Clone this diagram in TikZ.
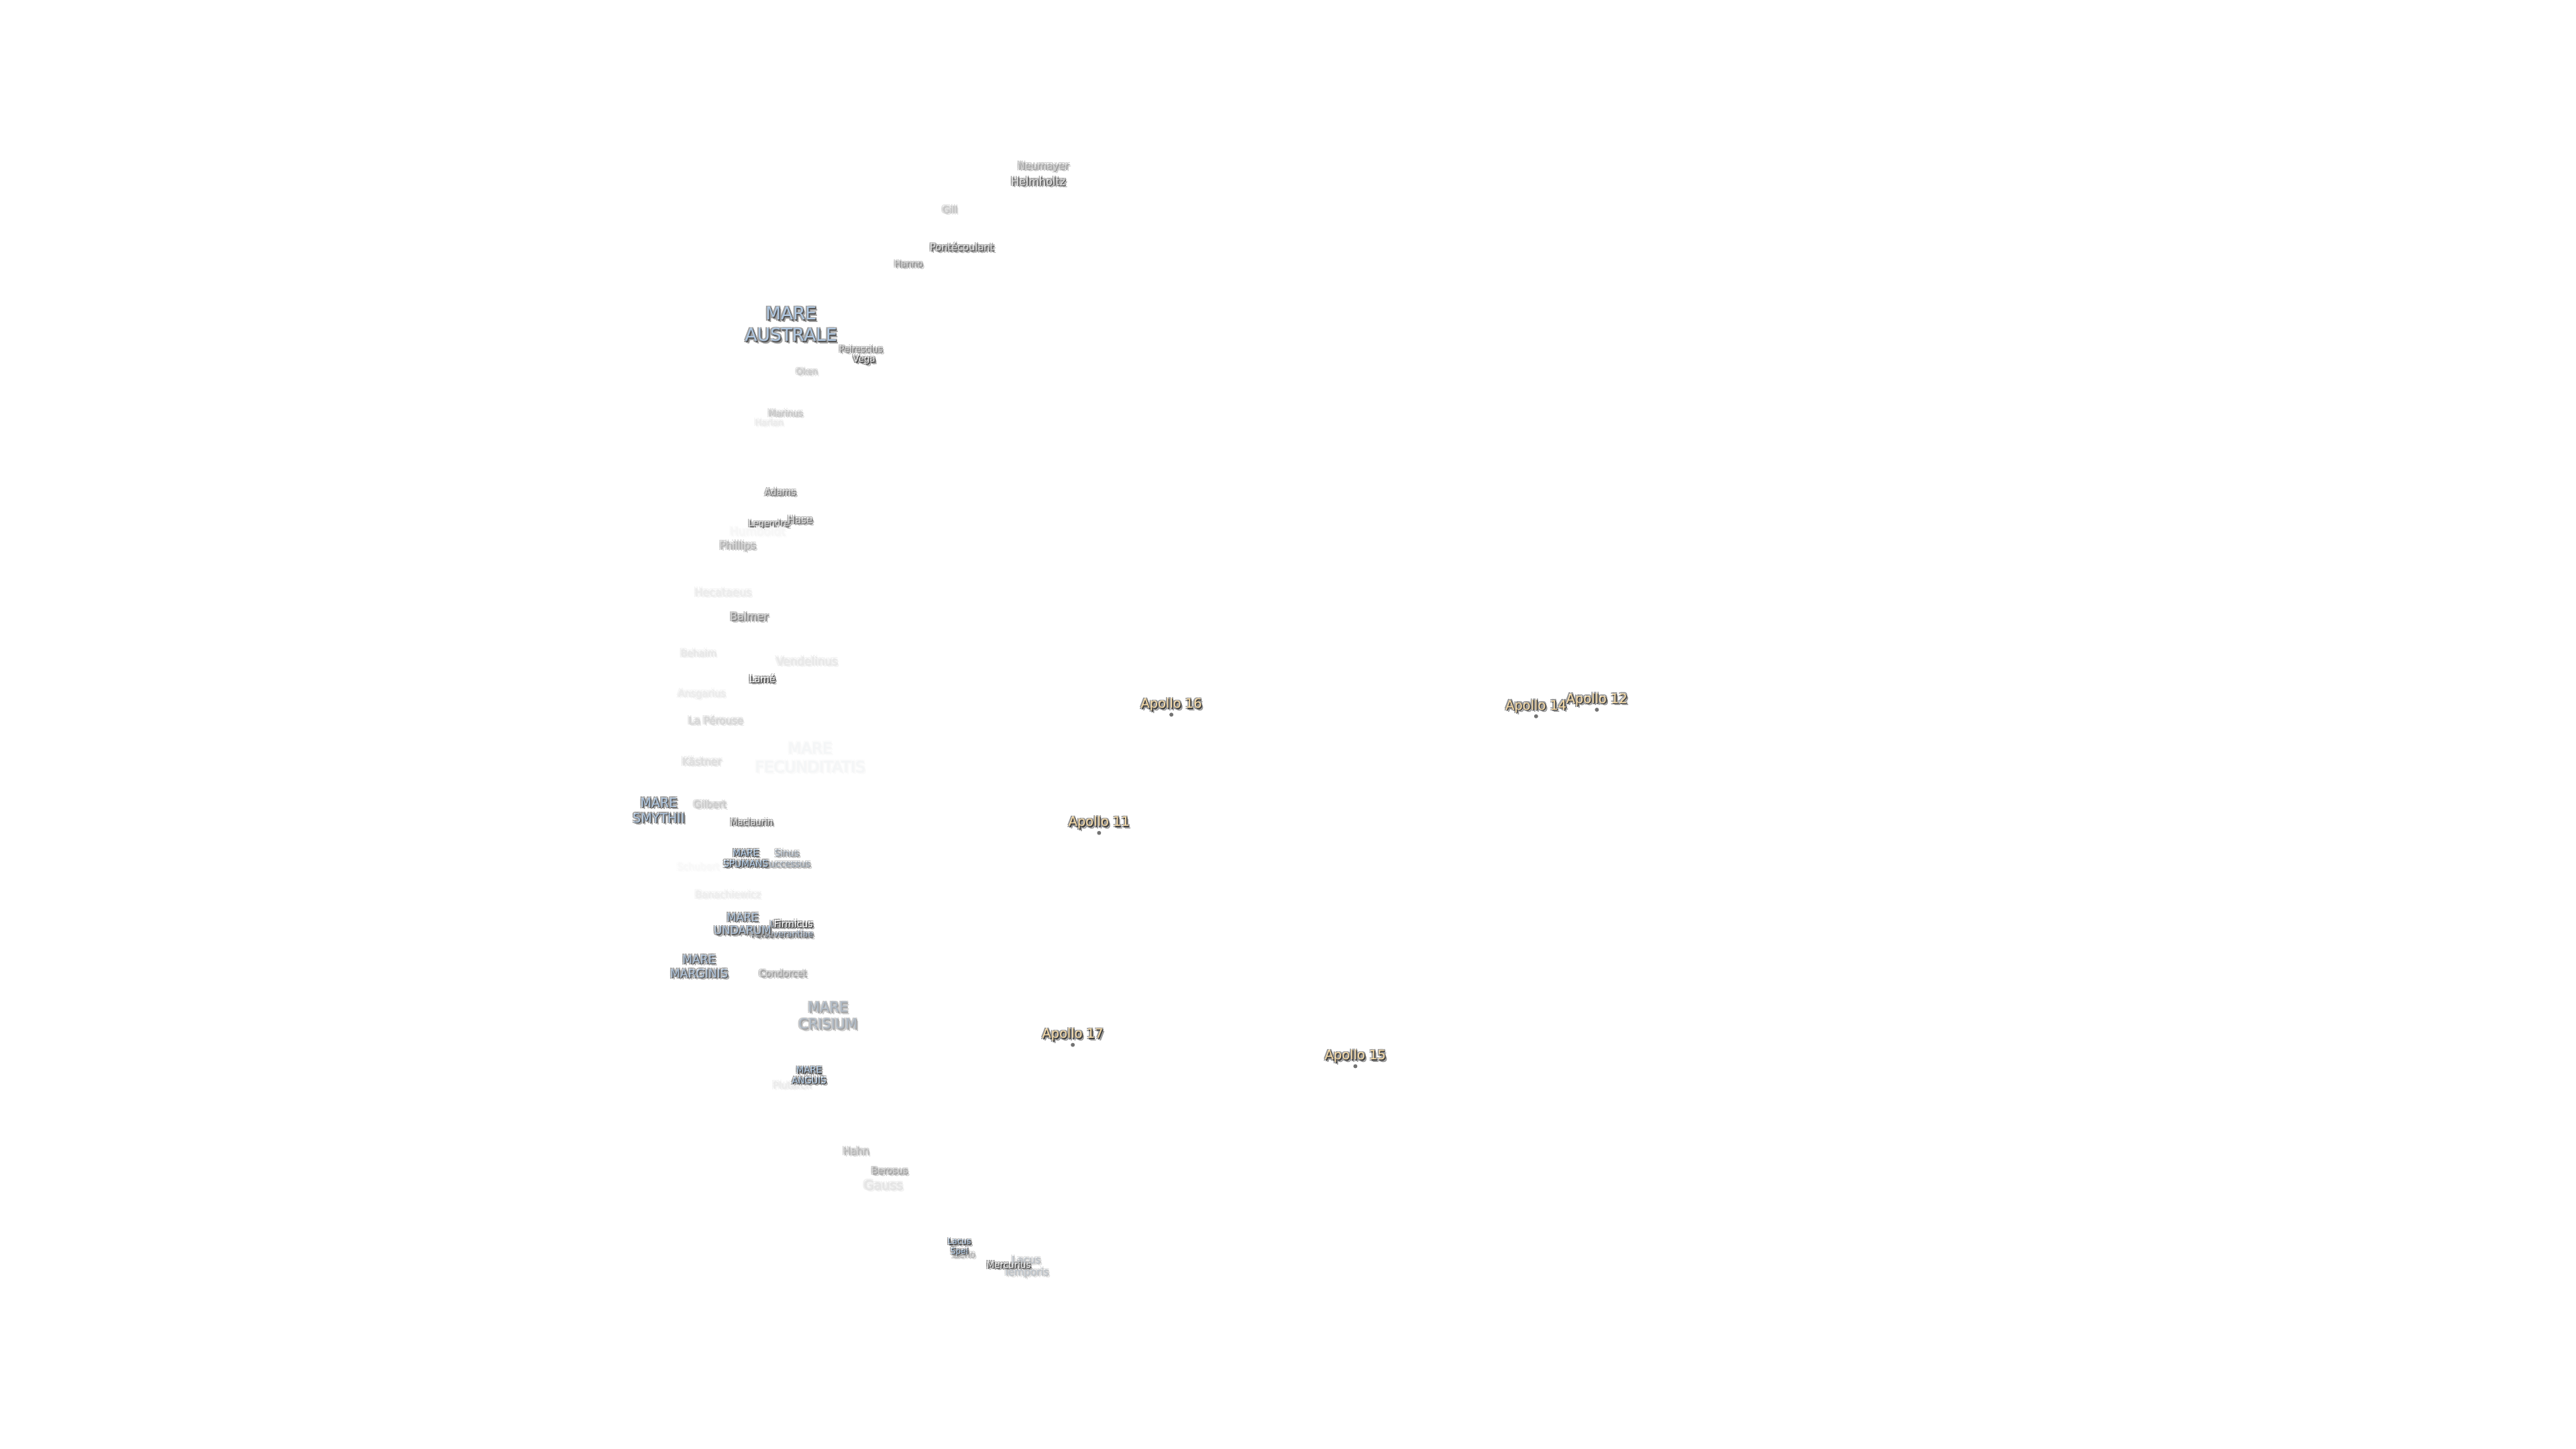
\documentclass[tikz,border=0pt]{standalone}
\usepackage{fontspec}
\setmainfont{DejaVu Sans}
\definecolor{mareblue}{HTML}{B6D3F2}
\definecolor{apollocream}{HTML}{F8DCA8}
\newcommand{\setlabelcolors}[2]{%
  \pgfmathsetmacro\darkpct{#1*0.74}%
  \pgfmathsetmacro\halopct{#1*0.42}%
  \pgfmathsetmacro\facepct{100-#1*(100-#1)*0.008}%
  \colorlet{labelface}{#2!#1!white}%
  \colorlet{labelface}{labelface!\facepct!black}%
  \colorlet{labeldark}{black!\darkpct!white}%
  \colorlet{labelhalo}{black!\halopct!white}%
}
\newcommand{\moonfont}[1]{\dimen0=#1pt\dimen0=1.2\dimen0\fontsize{#1pt}{\the\dimen0}\selectfont}
\newcommand{\moonstack}[1]{\begin{tabular}{@{}c@{}}#1\end{tabular}}
\newcommand{\moonlayer}[4]{\rlap{\kern#1pt\raisebox{#2pt}{\textcolor{#3}{\moonstack{#4}}}}}
\newcommand{\moontext}[1]{%
  \leavevmode
  \moonlayer{-0.45}{0.40}{labelhalo}{#1}%
  \moonlayer{0.45}{0.40}{labelhalo}{#1}%
  \moonlayer{-0.45}{-0.45}{labelhalo}{#1}%
  \moonlayer{0.80}{-0.85}{labelhalo}{#1}%
  \moonlayer{0.55}{-0.20}{labelhalo}{#1}%
  \moonlayer{0.20}{-0.60}{labelhalo}{#1}%
  \moonlayer{0.40}{-0.35}{labeldark}{#1}%
  \moonlayer{0.20}{-0.20}{labeldark}{#1}%
  \textcolor{labelface}{\moonstack{#1}}%
}
\tikzset{
  moonlabel/.style n args={3}{inner sep=0pt,font=\moonfont{#1}\setlabelcolors{#2}{#3}},
  crater/.style 2 args={moonlabel={#1}{#2}{white}},
  mare/.style 2 args={moonlabel={#1}{#2}{mareblue}},
  apollo/.style={moonlabel={4.85}{100}{apollocream}},
  sitedot/.style={circle,inner sep=0pt,minimum size=1.5pt,fill=black!55}
}
\begin{document}
\begin{tikzpicture}[x=0.6122pt,y=-0.6122pt]
\useasboundingbox (0,-1.5) rectangle (1568,880.5);
% Far south
\node[crater={3.65}{50}] (Neumayer) at (635,100.5) {\moontext{Neumayer}};
\node[crater={4}{85}] (Helmholtz) at (632,110) {\moontext{Helmholtz}};
\node[crater={3.45}{32}] (Gill) at (578,127) {\moontext{Gill}};
\node[crater={3.65}{80}] (Pontecoulant) at (585.5,150) {\moontext{Pontécoulant}};
\node[crater={3.25}{55}] (Hanno) at (553,160) {\moontext{Hanno}};
\node[mare={6.6}{90}] (MareAustrale) at (481.5,197.5) {\moontext{MARE\\AUSTRALE}};
\node[crater={3.25}{65}] (Peirescius) at (524,212) {\moontext{Peirescius}};
\node[crater={3.35}{95}] (Vega) at (526,218) {\moontext{Vega}};
\node[crater={3.1}{28}] (Oken) at (491,225.5) {\moontext{Oken}};
\node[crater={3.25}{30}] (Marinus) at (478,251) {\moontext{Marinus}};
\node[crater={3.2}{10}] (Harlan) at (468,256.5) {\moontext{Harlan}};
% Middle of the limb
\node[crater={3.4}{70}] (Adams) at (475,299) {\moontext{Adams}};
\node[crater={3.25}{75}] (Legendre) at (468,318) {\moontext{Legendre}};
\node[crater={3.7}{75}] (Hase) at (487,316) {\moontext{Hase}};
\node[crater={4.2}{4}] (Humboldt) at (461,323) {\moontext{Humboldt}};
\node[crater={3.85}{42}] (Phillips) at (449,331.5) {\moontext{Phillips}};
\node[crater={4}{10}] (Hecataeus) at (440,360) {\moontext{Hecataeus}};
\node[crater={3.95}{62}] (Balmer) at (456,375) {\moontext{Balmer}};
\node[crater={3.5}{12}] (Behaim) at (425,397) {\moontext{Behaim}};
\node[crater={4.2}{12}] (Vendelinus) at (491,402) {\moontext{Vendelinus}};
\node[crater={3.5}{95}] (Lame) at (464,413) {\moontext{Lamé}};
\node[crater={3.6}{10}] (Ansgarius) at (427,421.5) {\moontext{Ansgarius}};
\node[crater={3.75}{22}] (LaPerouse) at (435.5,438) {\moontext{La Pérouse}};
\node[crater={3.85}{18}] (Kastner) at (427,463) {\moontext{Kästner}};
\node[mare={5.75}{4}] (MareFecunditatis) at (493,461) {\moontext{MARE\\FECUNDITATIS}};
% Eastern maria
\node[mare={4.75}{90}] (MareSmythii) at (401,493) {\moontext{MARE\\SMYTHII}};
\node[crater={3.6}{28}] (Gilbert) at (432,489) {\moontext{Gilbert}};
\node[crater={3.25}{78}] (Maclaurin) at (457.5,500) {\moontext{Maclaurin}};
\node[crater={3.5}{3}] (Schubert) at (425,527) {\moontext{Schubert}};
\node[mare={3.35}{55}] (SinusSuccessus) at (479,522) {\moontext{Sinus\\Successus}};
\node[mare={3.4}{95}] (MareSpumans) at (454,522) {\moontext{MARE\\SPUMANS}};
\node[crater={3.6}{9}] (Banachiewicz) at (443,544) {\moontext{Banachiewicz}};
\node[mare={3.1}{78}] (LacusPerseverantiae) at (476,565) {\moontext{Lacus\\Perseverantiae}};
\node[mare={4.1}{85}] (MareUndarum) at (452,562) {\moontext{MARE\\UNDARUM}};
\node[crater={3.5}{100}] (Firmicus) at (483,562) {\moontext{Firmicus}};
\node[mare={4.3}{85}] (MareMarginis) at (425.5,588) {\moontext{MARE\\MARGINIS}};
\node[crater={3.45}{48}] (Condorcet) at (476.5,592) {\moontext{Condorcet}};
\node[mare={5.2}{48}] (MareCrisium) at (504,618) {\moontext{MARE\\CRISIUM}};
\node[crater={3.5}{10}] (Plutarch) at (482,660) {\moontext{Plutarch}};
\node[mare={3.3}{95}] (MareAnguis) at (492.5,654) {\moontext{MARE\\ANGUIS}};
% North east
\node[crater={3.7}{38}] (Hahn) at (521,700) {\moontext{Hahn}};
\node[crater={3.4}{48}] (Berosus) at (541.5,712) {\moontext{Berosus}};
\node[crater={4.75}{14}] (Gauss) at (537.5,721) {\moontext{Gauss}};
\node[crater={3.3}{40}] (Zeno) at (586.5,763) {\moontext{Zeno}};
\node[mare={3}{95}] (LacusSpei) at (584,758) {\moontext{Lacus\\Spei}};
\node[mare={3.75}{32}] (LacusTemporis) at (624.5,770) {\moontext{Lacus\\Temporis}};
\node[crater={3.35}{92}] (Mercurius) at (614,769.5) {\moontext{Mercurius}};
% Landing sites
\node[sitedot] (Site16) at (713,433.5) {};
\node[apollo] (Apollo16) at (713,428) {\moontext{Apollo 16}};
\node[sitedot] (Site14) at (935,434.5) {};
\node[apollo] (Apollo14) at (935,429) {\moontext{Apollo 14}};
\node[sitedot] (Site12) at (972,430.5) {};
\node[apollo] (Apollo12) at (972,425) {\moontext{Apollo 12}};
\node[sitedot] (Site11) at (669,505.5) {};
\node[apollo] (Apollo11) at (669,500) {\moontext{Apollo 11}};
\node[sitedot] (Site17) at (653,634.5) {};
\node[apollo] (Apollo17) at (653,629) {\moontext{Apollo 17}};
\node[sitedot] (Site15) at (825,647.5) {};
\node[apollo] (Apollo15) at (825,642) {\moontext{Apollo 15}};
\end{tikzpicture}
\end{document}
